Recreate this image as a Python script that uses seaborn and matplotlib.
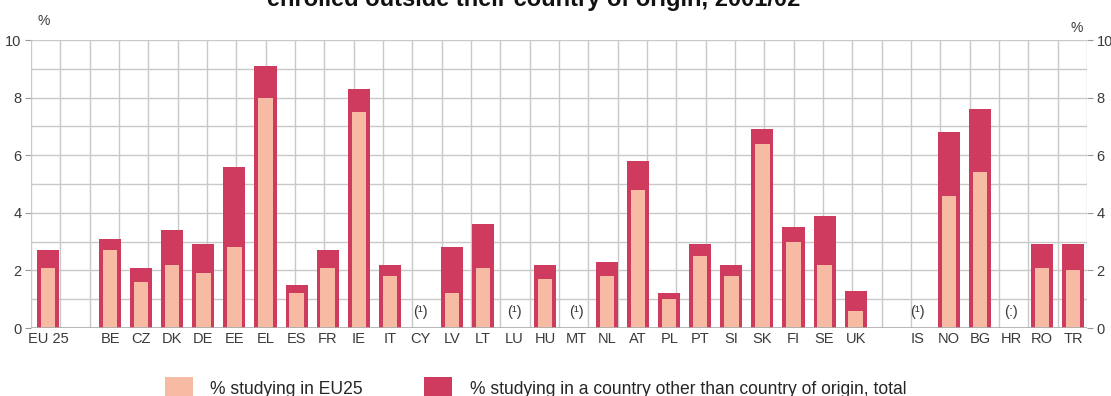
import numpy as np
import pandas as pd
import seaborn as sns
import matplotlib.pyplot as plt
from matplotlib.patches import Patch

# slots on the x axis (blank names are the gaps between groups)
categories = ["EU 25", " ", "BE", "CZ", "DK", "DE", "EE", "EL", "ES", "FR", "IE", "IT",
              "CY", "LV", "LT", "LU", "HU", "MT", "NL", "AT", "PL", "PT", "SI", "SK",
              "FI", "SE", "UK", "  ", "IS", "NO", "BG", "HR", "RO", "TR"]
countries = ["EU 25", "BE", "CZ", "DK", "DE", "EE", "EL", "ES", "FR", "IE", "IT",
             "LV", "LT", "HU", "NL", "AT", "PL", "PT", "SI", "SK",
             "FI", "SE", "UK", "NO", "BG", "RO", "TR"]
total = [2.7, 3.1, 2.1, 3.4, 2.9, 5.6, 9.1, 1.5, 2.7, 8.3, 2.2,
         2.8, 3.6, 2.2, 2.3, 5.8, 1.2, 2.9, 2.2, 6.9,
         3.5, 3.9, 1.3, 6.8, 7.6, 2.9, 2.9]
eu25 = [2.1, 2.7, 1.6, 2.2, 1.9, 2.8, 8.0, 1.2, 2.1, 7.5, 1.8,
        1.2, 2.1, 1.7, 1.8, 4.8, 1.0, 2.5, 1.8, 6.4,
        3.0, 2.2, 0.6, 4.6, 5.4, 2.1, 2.0]
notes = {"CY": "(¹)", "LU": "(¹)", "MT": "(¹)", "IS": "(¹)", "HR": "(:)"}

df = pd.DataFrame({"country": countries, "total": total, "eu25": eu25})

dark = "#CE3B5F"
light = "#F6BBA2"
grid_c = "#C9C9C9"
txt_c = "#3A3A3A"

sns.set_style("white")
plt.rcParams["font.family"] = ["Liberation Sans", "DejaVu Sans"]

fig = plt.figure(figsize=(11.11, 3.96), dpi=100)
ax = fig.add_axes([31 / 1111, 1 - 328 / 396, 1056 / 1111, 288 / 396])

sns.barplot(data=df, x="country", y="total", order=categories, color=dark,
            width=0.71, saturation=1, linewidth=0, ax=ax, zorder=3)
sns.barplot(data=df, x="country", y="eu25", order=categories, color=light,
            width=0.46, saturation=1, linewidth=0, ax=ax, zorder=4)

xmin, xmax = -0.55, len(categories) - 1 + 0.45
ax.set_xlim(xmin, xmax)
ax.set_ylim(0, 10)

# grid: one line per unit, 36 columns across
for v in range(1, 11):
    ax.axhline(v, color=grid_c, lw=1, zorder=1)
for x in np.linspace(xmin, xmax, 37):
    ax.axvline(x, color=grid_c, lw=1, zorder=1)

for s in ax.spines.values():
    s.set_visible(False)
ax.axhline(0, color="#AAAAAA", lw=1.2, zorder=5)

ax.set_xlabel("")
ax.set_ylabel("")
ax.set_xticks(range(len(categories)))
ax.set_xticklabels(categories, fontsize=10.5, color=txt_c)
ax.tick_params(axis="x", length=0, pad=3)
ax.set_yticks(range(0, 11, 2))
ax.tick_params(axis="y", length=4, color="#999999", labelsize=10.5,
               labelcolor=txt_c, left=True, right=True, labelleft=True,
               labelright=True, pad=3)

for name, note in notes.items():
    ax.text(categories.index(name), 0.55, note, ha="center", va="center",
            fontsize=10.5, color=txt_c, zorder=6)

fig.text(37 / 1111, 1 - 21 / 396, "%", fontsize=10, color=txt_c, ha="left", va="center")
fig.text(1077 / 1111, 1 - 28 / 396, "%", fontsize=10, color=txt_c, ha="center", va="center")

fig.text(534 / 1111, 1 - 6 / 396, "enrolled outside their country of origin, 2001/02",
         ha="center", va="baseline", fontsize=17, fontweight="bold", color="#111111")

handles = [Patch(facecolor=light, edgecolor="none", label="% studying in EU25"),
           Patch(facecolor=dark, edgecolor="none",
                 label="% studying in a country other than country of origin, total")]
fig.legend(handles=handles, loc="center left", bbox_to_anchor=(149 / 1111, 1 - 388 / 396),
           ncol=2, frameon=False, fontsize=12.65, handlelength=1.59, handleheight=1.59,
           handletextpad=1.0, columnspacing=3.5, borderpad=0.4)

fig.savefig("out.png", dpi=100)
